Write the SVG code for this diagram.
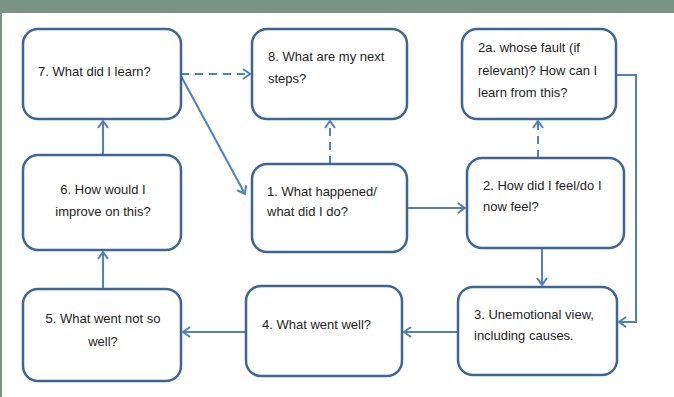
<svg xmlns="http://www.w3.org/2000/svg" width="674" height="397" viewBox="0 0 674 397">
<defs>
<marker id="arr" markerUnits="userSpaceOnUse" markerWidth="12" markerHeight="14" refX="9" refY="6" orient="auto">
<path d="M2,1 L9,6 L2,11" fill="none" stroke="#4f81bd" stroke-width="2"/>
</marker>
</defs>
<style>
.box{fill:#fff;stroke:#3f6597;stroke-width:2.5}
.t{font-family:"Liberation Sans",Arial,sans-serif;font-size:13px;fill:#1e1e1e}
.c{text-anchor:middle}
.ln{fill:none;stroke:#4f81bd;stroke-width:2}
.d{stroke-dasharray:8 6}
</style>
<rect x="0" y="0" width="674" height="397" fill="#fff"/>
<rect x="0" y="0" width="674" height="13" fill="#7a9484"/>
<rect x="0" y="0" width="2" height="397" fill="#7a9484"/>

<g id="connectors">
<path class="ln d" d="M181 74 H250" marker-end="url(#arr)"/>
<path class="ln" d="M181 76 L245 194" marker-end="url(#arr)"/>
<path class="ln d" d="M330 164 V121" marker-end="url(#arr)"/>
<path class="ln" d="M407 208 H465" marker-end="url(#arr)"/>
<path class="ln d" d="M538 158 V121" marker-end="url(#arr)"/>
<path class="ln" d="M616 75 H636 V322 H619" marker-end="url(#arr)"/>
<path class="ln" d="M542 248 V285" marker-end="url(#arr)"/>
<path class="ln" d="M458 332 H404" marker-end="url(#arr)"/>
<path class="ln" d="M246 332 H183" marker-end="url(#arr)"/>
<path class="ln" d="M103 289 V252" marker-end="url(#arr)"/>
<path class="ln" d="M103 155 V121" marker-end="url(#arr)"/>
</g>

<g id="n7"><rect class="box" x="23" y="29" width="158" height="90" rx="15"/>
<text class="t" x="38" y="76">7. What did I learn?</text></g>
<g id="n8"><rect class="box" x="252" y="29" width="155" height="90" rx="15"/>
<text class="t" x="268" y="61">8. What are my next</text>
<text class="t" x="268" y="83">steps?</text></g>
<g id="n2a"><rect class="box" x="462" y="29" width="154" height="90" rx="15"/>
<text class="t" x="478" y="52">2a. whose fault (if</text>
<text class="t" x="478" y="75">relevant)? How can I</text>
<text class="t" x="478" y="97">learn from this?</text></g>
<g id="n6"><rect class="box" x="23" y="155" width="158" height="95" rx="15"/>
<text class="t c" x="103" y="194">6. How would I</text>
<text class="t c" x="103" y="216">improve on this?</text></g>
<g id="n1"><rect class="box" x="252" y="164" width="155" height="88" rx="15"/>
<text class="t" x="267" y="196">1. What happened/</text>
<text class="t" x="267" y="216">what did I do?</text></g>
<g id="n2"><rect class="box" x="467" y="158" width="157" height="90" rx="15"/>
<text class="t" x="483" y="190">2. How did I feel/do I</text>
<text class="t" x="483" y="211">now feel?</text></g>
<g id="n5"><rect class="box" x="23" y="289" width="158" height="92" rx="15"/>
<text class="t c" x="103" y="323">5. What went not so</text>
<text class="t c" x="103" y="346">well?</text></g>
<g id="n4"><rect class="box" x="246" y="286" width="156" height="90" rx="15"/>
<text class="t" x="262" y="329">4. What went well?</text></g>
<g id="n3"><rect class="box" x="458" y="287" width="159" height="88" rx="15"/>
<text class="t" x="474" y="319">3. Unemotional view,</text>
<text class="t" x="474" y="340">including causes.</text></g>
</svg>
